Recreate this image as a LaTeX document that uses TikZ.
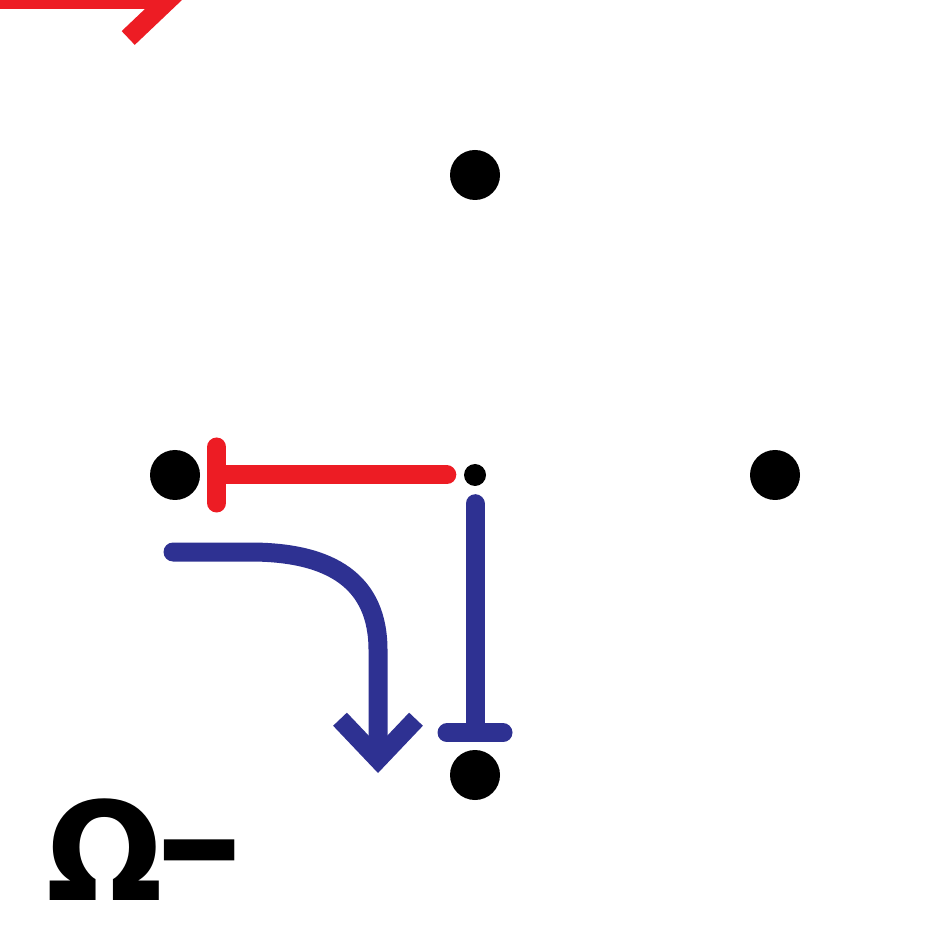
\documentclass[tikz,border=0pt]{standalone}
\usepackage{fontspec}
\usepackage{tikz}
\usetikzlibrary{
  arrows.meta,
  positioning
}
\newfontfamily\symbfont{DejaVu Sans}
\definecolor{inhibred}{HTML}{ED1C24}
\definecolor{flowblue}{HTML}{2E3192}

\begin{document}
\begin{tikzpicture}[x=0.1mm,y=-0.1mm,>=Latex]
  \tikzset{
    site/.style={circle, fill=black, minimum size=5mm, inner sep=0pt},
    small site/.style={circle, fill=black, minimum size=2.2mm, inner sep=0pt},
    fat line/.style={line width=1.9mm, line cap=round},
    blocker/.style={fat line, -{Bar[width=5.6mm, round]}},
    pointer/.style={fat line, -{Straight Barb[length=4mm, width=7.6mm]}},
    % every path/.style={thick},
  }
\useasboundingbox (0,0) rectangle (950,950);
\clip (0,0) rectangle (950,950);

\node[site] (north) at (475,175) {};
\node[site] (west) at (175,475) {};
\node[site] (east) at (775,475) {};
\node[site] (south) at (475,775) {};
\node[small site] (centre) at (475,475) {};

\draw[blocker, draw=inhibred, shorten <=1.65mm, shorten >=0.65mm] (centre) -- (west);
\draw[blocker, draw=flowblue, shorten <=1.7mm, shorten >=0.7mm] (centre) -- (south);

\coordinate (turn start) at (173,552);
\coordinate (turn end) at (378,773);
\draw[pointer, draw=flowblue] (turn start) -- (250,552)
  .. controls (332,552) and (378,582) .. (378,650) -- (turn end);

\coordinate (top start) at (-200,0);
\coordinate (top end) at (182,0);
\draw[pointer, draw=inhibred] (top start) -- (top end);

\node[anchor=base west, inner sep=0pt, name=charge]
  at (46,900) {\symbfont\bfseries\fontsize{39}{39}\selectfont
  Ω\kern-1.1mm\raisebox{-0.7mm}{\scalebox{0.82}[1.33]{−}}};

\end{tikzpicture}
\end{document}
